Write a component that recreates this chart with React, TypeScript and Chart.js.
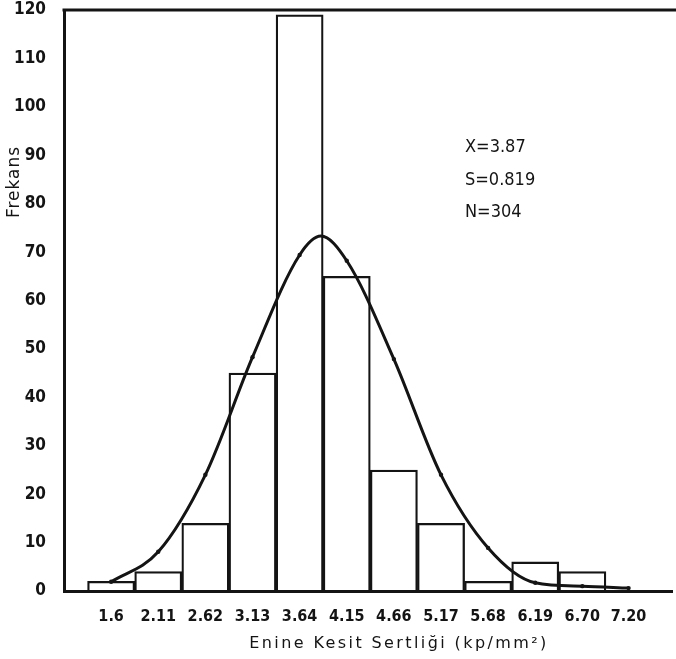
import { useEffect, useRef } from 'react';
import { Chart, registerables } from 'chart.js';

Chart.register(...registerables);

const binCenters = [1.6, 2.11, 2.62, 3.13, 3.64, 4.15, 4.66, 5.17, 5.68, 6.19, 6.7, 7.2];
const tickLabels = ['1.6', '2.11', '2.62', '3.13', '3.64', '4.15', '4.66', '5.17', '5.68', '6.19', '6.70', '7.20'];
const frequencies = [2, 4, 14, 45, 119, 65, 25, 14, 2, 6, 4];
const curveX = [1.6, 2.11, 2.62, 3.13, 3.64, 3.87, 4.15, 4.66, 5.17, 5.68, 6.19, 6.7, 7.2];
const curveY = [1.9, 8.1, 24, 48.3, 69.4, 73.3, 68.2, 47.9, 24, 8.9, 1.7, 1.0, 0.6];
const curveMarked = [true, true, true, true, true, false, true, true, true, true, true, true, true];
const statLines = ['X=3.87', 'S=0.819', 'N=304'];
const xTitle = 'Enine Kesit Sertliği (kp/mm²)';
const yTitle = 'Frekans';

const INK = '#141414';

export default function App() {
  const ref = useRef<HTMLCanvasElement | null>(null);

  useEffect(() => {
    const canvas = ref.current;
    if (!canvas) return;

    const decor = {
      id: 'decor',
      afterDraw(chart: any) {
        const { ctx, chartArea, width } = chart;
        ctx.save();
        ctx.strokeStyle = INK;
        ctx.lineWidth = 3;
        ctx.beginPath();
        ctx.moveTo(chartArea.left - 1.5, chartArea.top);
        ctx.lineTo(width, chartArea.top);
        ctx.stroke();

        ctx.fillStyle = INK;
        ctx.save();
        ctx.translate(15, 182);
        ctx.rotate(-Math.PI / 2);
        ctx.font = '17px "DejaVu Sans"';
        (ctx as any).letterSpacing = '1px';
        ctx.textAlign = 'center';
        ctx.textBaseline = 'middle';
        ctx.fillText(yTitle, 0, 0);
        ctx.restore();

        ctx.save();
        ctx.font = '16px "DejaVu Sans"';
        (ctx as any).letterSpacing = '2.4px';
        ctx.textAlign = 'center';
        ctx.textBaseline = 'middle';
        ctx.fillText(xTitle, 399, 644);
        ctx.restore();

        ctx.save();
        ctx.font = '18px "DejaVu Sans Condensed"';
        ctx.textAlign = 'left';
        ctx.textBaseline = 'middle';
        const ys = [147, 180, 212];
        statLines.forEach((s, i) => ctx.fillText(s, 465, ys[i]));
        ctx.restore();
        ctx.restore();
      },
    };

    const chart = new Chart(canvas, {
      type: 'bar',
      data: {
        datasets: [
          {
            type: 'line',
            data: curveX.map((x, i) => ({ x, y: curveY[i] })),
            borderColor: INK,
            borderWidth: 3,
            pointRadius: curveMarked.map((m) => (m ? 2.2 : 0)),
            pointBackgroundColor: INK,
            pointBorderWidth: 0,
            cubicInterpolationMode: 'monotone',
            order: 1,
          } as any,
          {
            type: 'bar',
            data: frequencies.map((f, i) => ({ x: binCenters[i], y: f })),
            backgroundColor: 'rgba(0,0,0,0)',
            borderColor: INK,
            borderWidth: 1.6,
            barThickness: 'flex',
            barPercentage: 1,
            categoryPercentage: 1,
            order: 2,
          } as any,
        ],
      },
      options: {
        animation: false,
        responsive: false,
        layout: { padding: { top: 10, right: 0, left: 0, bottom: 0 } },
        plugins: { legend: { display: false }, tooltip: { enabled: false }, title: { display: false } },
        scales: {
          x: {
            type: 'linear',
            min: 1.09,
            max: 7.67,
            offset: false,
            grid: { display: false },
            border: { display: true, color: INK, width: 3 },
            afterBuildTicks: (s: any) => {
              s.ticks = binCenters.map((v) => ({ value: v }));
            },
            afterFit: (s: any) => {
              s.height = 68;
              s.paddingLeft = 0;
              s.paddingRight = 0;
            },
            ticks: {
              autoSkip: false,
              maxRotation: 0,
              padding: 8,
              color: INK,
              font: { family: '"DejaVu Sans Condensed"', size: 16, weight: 'bold' },
              callback: (v: any) => {
                const i = binCenters.findIndex((c) => Math.abs(c - Number(v)) < 1e-6);
                return i >= 0 ? tickLabels[i] : '';
              },
            },
          },
          y: {
            min: 0,
            max: 120,
            grid: { display: false },
            border: { display: true, color: INK, width: 3 },
            afterFit: (s: any) => {
              s.width = 64;
              s.paddingTop = 0;
              s.paddingBottom = 0;
            },
            ticks: {
              stepSize: 10,
              padding: 10,
              color: INK,
              font: { family: '"DejaVu Sans Condensed"', size: 17, weight: 'bold' },
            },
          },
        },
      } as any,
      plugins: [decor],
    });

    return () => chart.destroy();
  }, []);

  return (
    <div style={{ position: 'fixed', left: 0, top: 0, width: 676, height: 659, background: '#fff' }}>
      <canvas ref={ref} width={676} height={659} style={{ display: 'block' }} />
    </div>
  );
}
